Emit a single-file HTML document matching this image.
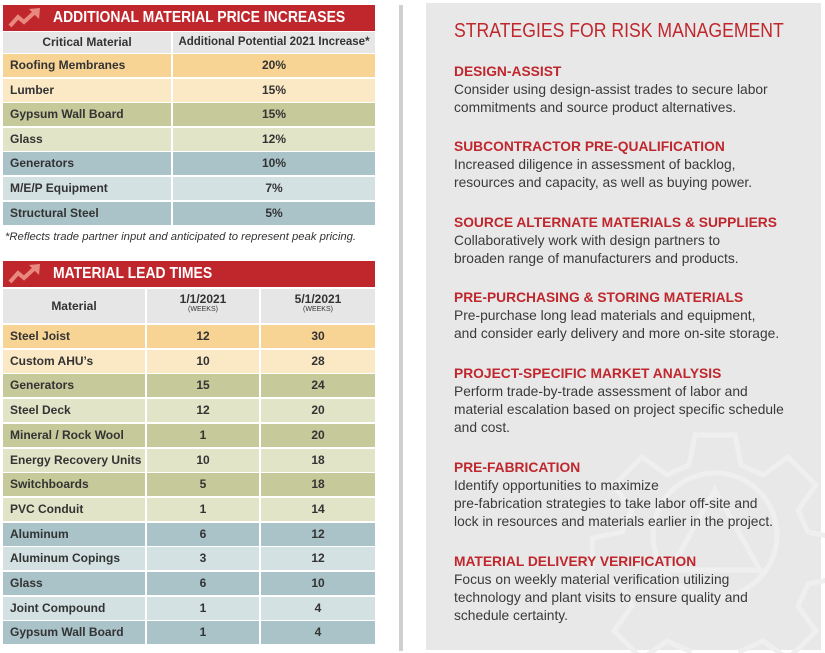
<!DOCTYPE html>
<html><head><meta charset="utf-8"><style>
*{margin:0;padding:0;box-sizing:border-box}
body{width:825px;height:653px;background:#fff;position:relative;overflow:hidden;font-family:"Liberation Sans",Arial,sans-serif;}
.a{position:absolute}
.hdr{background:#c0272d;color:#fff;height:26px}
.hdr span{position:absolute;left:50px;top:0;font-weight:bold;font-size:15.5px;line-height:26px;white-space:nowrap;transform:scaleX(0.9);transform-origin:left center}
.cell{position:absolute;font-size:12px;font-weight:bold;color:#333;line-height:23px;white-space:nowrap}
.l{padding-left:7px}.c{text-align:center}
.ch{background:#e6e6e7;color:#333}
.o1{background:#f7d394}.o2{background:#fbe9c6}.g1{background:#c6c99a}.g2{background:#e2e4c7}.b1{background:#a9c3c8}.b2{background:#d3e1e3}
.rt{position:absolute;left:454px;color:#3a3a3a;font-size:13.8px;line-height:18px;white-space:nowrap}
.rt b{color:#c0272d;font-size:13.8px;display:block;line-height:18px}
small{font-size:7px;font-weight:normal;display:block;line-height:8px}
</style></head><body>
<div class="a hdr" style="left:3px;top:5px;width:372px"><span>ADDITIONAL MATERIAL PRICE INCREASES</span></div>
<svg class="a" style="left:8px;top:7px" width="34" height="22"><polyline points="2,19 10,10 16,15 28,4" fill="none" stroke="#e8897f" stroke-width="4"/><polygon points="21,2 32,1 31,12" fill="#e8897f"/></svg>
<div class="cell ch c" style="left:3px;top:32px;width:168px;height:21px;line-height:21px">Critical Material</div>
<div class="cell ch c" style="left:173px;top:32px;width:202px;height:21px;line-height:21px;font-size:11.5px">Additional Potential 2021 Increase*</div>
<div id="t1"></div>
<div class="a" style="left:5px;top:231px;font-size:11.3px;font-style:italic;color:#333;white-space:nowrap">*Reflects trade partner input and anticipated to represent peak pricing.</div>

<div class="a hdr" style="left:3px;top:261px;width:372px"><span>MATERIAL LEAD TIMES</span></div>
<svg class="a" style="left:8px;top:263px" width="34" height="22"><polyline points="2,19 10,10 16,15 28,4" fill="none" stroke="#e8897f" stroke-width="4"/><polygon points="21,2 32,1 31,12" fill="#e8897f"/></svg>
<div class="cell ch c" style="left:3px;top:289px;width:142px;height:34px;line-height:34px">Material</div>
<div class="cell ch c" style="left:147px;top:289px;width:112px;height:34px;line-height:13px;padding-top:4px">1/1/2021<small>(WEEKS)</small></div>
<div class="cell ch c" style="left:261px;top:289px;width:114px;height:34px;line-height:13px;padding-top:4px">5/1/2021<small>(WEEKS)</small></div>
<div id="t2"></div>

<div class="a" style="left:399px;top:5px;width:4px;height:646px;background:#cfcfd0"></div>
<div class="a" style="left:426px;top:3px;width:395px;height:647px;background:#e8e8e9"></div>
<svg class="a" style="left:590px;top:430px" width="235" height="223"><g fill="none" stroke="#efefef" stroke-width="5"><path d="M105,5 h40 l6,30 l22,10 l25,-18 l28,28 l-18,25 l10,22 l30,6 v40 l-30,6 l-10,22 l18,25 l-28,28 l-25,-18 l-22,10 l-6,30 h-40 l-6,-30 l-22,-10 l-25,18 l-28,-28 l18,-25 l-10,-22 l-30,-6 v-40 l30,-6 l10,-22 l-18,-25 l28,-28 l25,18 l22,-10 z"/><circle cx="125" cy="105" r="62"/><path d="M125,60 L170,140 H80 Z"/></g></svg>
<div class="a" style="left:454px;top:19px;font-size:20.5px;color:#c0272d;white-space:nowrap;transform:scaleX(0.86);transform-origin:left top">STRATEGIES FOR RISK MANAGEMENT</div>
<div class="rt" style="top:63px"><b>DESIGN-ASSIST</b>Consider using design-assist trades to secure labor<br>commitments and source product alternatives.</div>
<div class="rt" style="top:138px"><b>SUBCONTRACTOR PRE-QUALIFICATION</b>Increased diligence in assessment of backlog,<br>resources and capacity, as well as buying power.</div>
<div class="rt" style="top:214px"><b>SOURCE ALTERNATE MATERIALS &amp; SUPPLIERS</b>Collaboratively work with design partners to<br>broaden range of manufacturers and products.</div>
<div class="rt" style="top:289px"><b>PRE-PURCHASING &amp; STORING MATERIALS</b>Pre-purchase long lead materials and equipment,<br>and consider early delivery and more on-site storage.</div>
<div class="rt" style="top:365px"><b>PROJECT-SPECIFIC MARKET ANALYSIS</b>Perform trade-by-trade assessment of labor and<br>material escalation based on project specific schedule<br>and cost.</div>
<div class="rt" style="top:459px"><b>PRE-FABRICATION</b>Identify opportunities to maximize<br>pre-fabrication strategies to take labor off-site and<br>lock in resources and materials earlier in the project.</div>
<div class="rt" style="top:553px"><b>MATERIAL DELIVERY VERIFICATION</b>Focus on weekly material verification utilizing<br>technology and plant visits to ensure quality and<br>schedule certainty.</div>
<script>
var t1=[['Roofing Membranes','20%','o1'],['Lumber','15%','o2'],['Gypsum Wall Board','15%','g1'],['Glass','12%','g2'],['Generators','10%','b1'],['M/E/P Equipment','7%','b2'],['Structural Steel','5%','b1']];
var h='';t1.forEach(function(r,i){var y=54+i*24.6;
h+='<div class="cell l '+r[2]+'" style="left:3px;top:'+y+'px;width:168px;height:23px">'+r[0]+'</div>';
h+='<div class="cell c '+r[2]+'" style="left:173px;top:'+y+'px;width:202px;height:23px">'+r[1]+'</div>';});
document.getElementById('t1').outerHTML=h;
var t2=[['Steel Joist',12,30,'o1'],['Custom AHU\u2019s',10,28,'o2'],['Generators',15,24,'g1'],['Steel Deck',12,20,'g2'],['Mineral / Rock Wool',1,20,'g1'],['Energy Recovery Units',10,18,'g2'],['Switchboards',5,18,'g1'],['PVC Conduit',1,14,'g2'],['Aluminum',6,12,'b1'],['Aluminum Copings',3,12,'b2'],['Glass',6,10,'b1'],['Joint Compound',1,4,'b2'],['Gypsum Wall Board',1,4,'b1']];
h='';t2.forEach(function(r,i){var y=325+i*24.7;
h+='<div class="cell l '+r[3]+'" style="left:3px;top:'+y+'px;width:142px;height:23px">'+r[0]+'</div>';
h+='<div class="cell c '+r[3]+'" style="left:147px;top:'+y+'px;width:112px;height:23px">'+r[1]+'</div>';
h+='<div class="cell c '+r[3]+'" style="left:261px;top:'+y+'px;width:114px;height:23px">'+r[2]+'</div>';});
document.getElementById('t2').outerHTML=h;
</script>
</body></html>
